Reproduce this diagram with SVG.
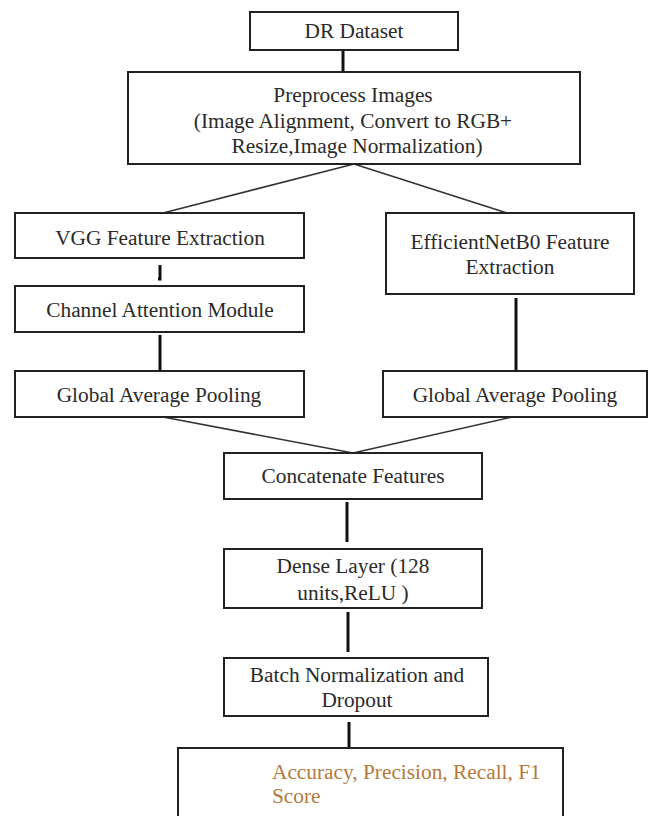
<svg xmlns="http://www.w3.org/2000/svg" width="648" height="816" viewBox="0 0 648 816">
<style>
.box{fill:#fff;stroke:#222;stroke-width:2}
.t{font-family:'Liberation Serif','Tinos','DejaVu Serif',serif;font-size:21.33px;fill:#2a2a2a;text-anchor:middle}
.o{font-family:'Liberation Serif','Tinos','DejaVu Serif',serif;font-size:21.33px;fill:#b5793a}
.v{stroke:#111;stroke-width:3;fill:none}
.d{stroke:#333;stroke-width:1.6;fill:none}
</style>
<rect width="648" height="816" fill="#fff"/>
<g id="connectors">
<line class="v" x1="343" y1="51" x2="343" y2="72"/>
<line class="d" x1="354" y1="164" x2="163" y2="213"/>
<line class="d" x1="354" y1="164" x2="507" y2="213"/>
<path class="v" d="M160 265 V279 H158"/>
<line class="v" x1="160" y1="335" x2="160" y2="372"/>
<line class="v" x1="516" y1="298" x2="516" y2="370"/>
<line class="d" x1="163" y1="417" x2="353" y2="453"/>
<line class="d" x1="512" y1="417" x2="353" y2="453"/>
<line class="v" x1="347" y1="502" x2="347" y2="542"/>
<line class="v" x1="348" y1="612" x2="348" y2="652"/>
<line class="v" x1="349" y1="722" x2="349" y2="748"/>
</g>
<g id="dr-dataset">
<rect class="box" x="250" y="12" width="208" height="38"/>
<text class="t" x="354" y="38">DR Dataset</text>
</g>
<g id="preprocess">
<rect class="box" x="128" y="72" width="452" height="92"/>
<text class="t" x="353" y="102">Preprocess Images</text>
<text class="t" x="353" y="128">(Image Alignment, Convert to RGB+</text>
<text class="t" x="357" y="153">Resize,Image Normalization)</text>
</g>
<g id="vgg">
<rect class="box" x="15" y="213" width="289" height="45"/>
<text class="t" x="160" y="245">VGG Feature Extraction</text>
</g>
<g id="channel-attention">
<rect class="box" x="15" y="286" width="289" height="46"/>
<text class="t" x="160" y="317">Channel Attention Module</text>
</g>
<g id="gap-left">
<rect class="box" x="15" y="371" width="289" height="46"/>
<text class="t" x="159" y="402">Global Average Pooling</text>
</g>
<g id="efficientnet">
<rect class="box" x="386" y="213" width="248" height="81"/>
<text class="t" x="510" y="249">EfficientNetB0 Feature</text>
<text class="t" x="510" y="274">Extraction</text>
</g>
<g id="gap-right">
<rect class="box" x="383" y="371" width="264" height="46"/>
<text class="t" x="515" y="402">Global Average Pooling</text>
</g>
<g id="concatenate">
<rect class="box" x="224" y="453" width="258" height="46"/>
<text class="t" x="353" y="483">Concatenate Features</text>
</g>
<g id="dense">
<rect class="box" x="224" y="549" width="258" height="59"/>
<text class="t" x="353" y="573">Dense Layer (128</text>
<text class="t" x="353" y="600">units,ReLU )</text>
</g>
<g id="batchnorm">
<rect class="box" x="224" y="658" width="264" height="58"/>
<text class="t" x="357" y="682">Batch Normalization and</text>
<text class="t" x="357" y="707">Dropout</text>
</g>
<g id="metrics">
<rect class="box" x="178" y="748" width="385" height="100"/>
<text class="o" x="272" y="779">Accuracy, Precision, Recall, F1</text>
<text class="o" x="272" y="803">Score</text>
</g>
</svg>
